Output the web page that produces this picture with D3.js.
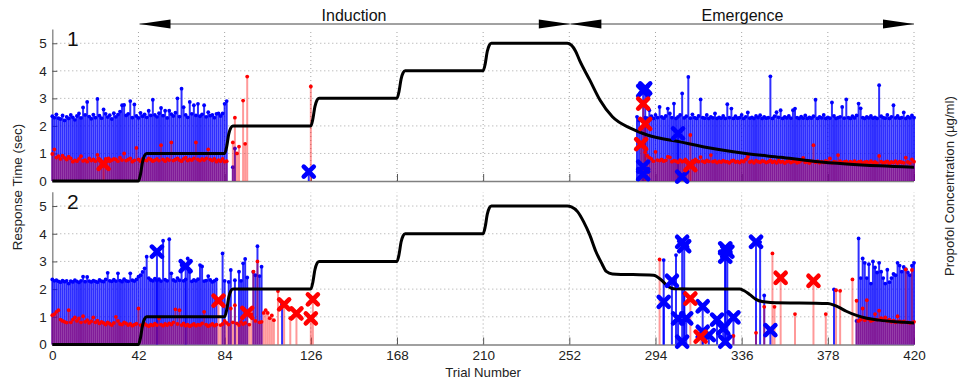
<!DOCTYPE html>
<html><head><meta charset="utf-8">
<script src="https://cdn.jsdelivr.net/npm/d3@7"></script>
<style>body{margin:0;background:#fff}svg{display:block;font-family:"Liberation Sans",Arial,Helvetica,sans-serif}</style>
</head><body>
<svg id="chart" width="960" height="384"></svg>
<script>
// ---------- data ----------
const trialTicks = [0, 42, 84, 126, 168, 210, 252, 294, 336, 378, 420];
const timeTicks = [0, 1, 2, 3, 4, 5];
const phaseNames = ["Induction", "Emergence"];
const phaseBounds = [[43, 252], [253, 420]];
const panelNames = ["1", "2"];

// Panel 1 — induction block, trials 0..85
const p1IndStart = 0;
const p1BlueInd = [
 2.35,2.30,2.42,2.28,2.25,2.38,2.20,2.33,2.27,2.40,
 2.31,2.22,2.36,2.45,2.29,2.67,2.40,2.87,2.34,2.26,
 2.41,2.30,2.98,2.37,2.28,2.60,2.44,2.32,2.39,2.25,
 2.46,2.33,2.41,2.52,2.75,2.76,2.38,2.44,2.90,2.30,
 2.78,2.36,2.29,2.47,2.35,2.42,2.31,2.55,2.38,2.95,
 2.40,2.33,2.46,2.65,2.37,2.55,2.29,2.55,2.43,2.36,
 2.48,3.00,2.34,3.35,2.68,2.40,2.31,2.87,2.44,2.75,
 2.38,2.80,2.35,2.42,2.75,2.33,2.50,2.37,2.40,2.30,
 2.44,2.45,2.36,2.45,2.80,2.90];
const p1RedInd = [
 0.98,1.15,0.85,0.90,0.80,0.92,0.84,0.78,0.88,0.82,
 0.70,0.75,0.72,0.80,0.90,0.73,0.76,0.70,0.82,0.74,
 0.78,0.72,0.95,0.74,0.70,0.62,0.80,0.74,0.72,0.76,
 0.80,0.78,0.72,0.85,0.76,1.00,0.74,0.78,0.82,0.70,
 0.75,1.20,0.78,0.72,0.80,0.76,0.74,0.82,0.78,0.72,
 0.76,0.80,0.74,1.30,0.78,0.72,0.80,0.76,1.40,0.74,
 0.78,0.82,0.76,0.72,0.80,0.85,0.74,0.78,0.76,0.82,
 1.40,0.78,0.74,0.80,0.76,0.82,1.15,0.78,0.74,0.80,
 0.70,0.76,0.72,0.80,0.70,0.72];
// Panel 1 — emergence block, trials 289..420
const p1EmgStart = 289;
const p1BlueEmg = [
 2.30,2.28,2.57,2.35,2.27,2.40,2.30,2.69,2.33,2.28,
 2.36,2.63,2.45,2.30,2.81,2.27,2.33,2.40,3.18,2.29,
 2.35,3.78,2.28,2.42,2.30,2.27,2.36,2.96,2.30,2.28,
 2.40,2.27,2.33,2.29,2.45,2.27,2.31,2.28,2.36,2.27,
 2.79,2.30,2.63,2.27,2.35,2.28,2.30,2.40,2.27,2.33,
 2.49,2.28,2.31,2.27,2.36,2.30,2.39,2.27,2.33,2.28,
 2.30,3.80,2.27,2.35,2.50,2.31,2.57,2.27,2.33,2.29,
 2.36,2.28,2.57,2.63,2.30,2.27,2.34,2.28,2.38,2.27,
 2.31,2.28,2.35,2.95,2.27,2.33,2.29,2.40,2.27,2.31,
 2.28,2.85,2.36,2.27,2.30,2.33,2.69,2.28,2.96,2.30,
 2.27,2.35,2.29,2.38,2.81,2.64,2.30,2.27,2.33,2.29,
 2.36,2.28,2.31,2.27,3.48,2.35,2.30,2.28,2.40,2.27,
 2.33,2.75,2.29,2.36,2.28,2.30,2.49,2.27,2.34,2.29,
 2.38,2.30];
const p1RedEmg = [
 1.04,0.92,0.85,0.80,0.72,1.06,0.76,0.74,0.78,0.72,
 0.75,0.88,0.86,0.70,0.74,0.72,0.68,0.76,0.70,0.73,
 0.70,0.66,1.67,0.72,0.69,0.74,0.70,0.87,0.72,0.68,
 0.75,0.71,0.94,0.70,0.73,0.67,0.71,0.69,0.74,0.70,
 0.70,0.66,0.72,0.75,0.69,0.71,0.67,0.73,0.70,0.78,
 0.88,0.69,0.72,0.66,0.74,0.70,0.68,0.73,0.71,0.67,
 0.70,0.75,0.68,0.72,0.66,0.74,0.69,0.71,0.65,0.70,
 0.73,0.67,0.70,0.72,0.66,0.69,0.74,0.84,0.68,0.70,
 0.65,0.71,1.30,0.68,0.72,0.66,0.70,0.67,0.73,0.69,
 0.82,0.66,0.70,0.68,0.94,0.72,0.66,0.69,0.71,0.65,
 0.70,0.67,0.72,0.66,0.69,0.71,0.65,0.68,0.70,0.66,
 0.72,0.67,0.69,0.65,0.91,0.70,0.66,0.68,0.71,0.64,
 0.69,0.67,0.72,0.65,0.70,0.68,0.66,0.85,0.69,0.65,
 0.78,0.70];
const p1BlueExtra = [[88,0.50],[89,1.18],[285,2.33],[286,2.20],[287,1.90]];
const p1RedExtra = [[88,1.40],[89,2.30],[90,1.00],[91,1.25],[93,2.92],[94,1.35],[95,3.79],[126,3.43]];
const p1BlueX = [[125,0.34],[289,3.36],[288,3.27],[288,0.52],[288,0.25],[307,0.16],[305,1.73]];
const p1RedX = [[25,0.62],[288,2.81],[289,2.07],[287,1.34],[311,0.58]];

// Panel 2 — induction block, trials 0..110 (null = no response shown)
const p2IndStart = 0;
const p2BlueInd = [
 2.35,2.30,2.32,2.28,2.25,2.31,2.27,2.30,2.20,2.29,
 2.26,2.32,2.28,2.24,2.30,2.45,2.27,2.44,2.29,2.26,
 2.31,2.28,2.25,2.33,2.29,2.27,2.35,2.59,2.30,2.28,
 2.34,2.29,2.57,2.31,2.27,2.36,2.30,2.28,2.57,2.32,
 2.29,2.35,2.45,2.50,2.62,2.75,3.17,2.40,2.33,2.30,
 2.38,2.31,2.36,2.29,3.75,2.34,2.30,3.80,2.57,2.33,
 2.29,2.40,2.32,2.87,2.30,2.35,3.11,2.62,2.28,2.33,
 2.30,2.36,2.87,2.82,2.29,2.31,2.47,2.33,2.26,2.30,
 2.35,null,null,3.29,2.30,null,2.26,2.69,null,2.32,
 null,2.63,2.30,2.93,3.09,2.42,null,null,2.62,2.50,
 3.55,2.47,2.81];
const p2RedInd = [
 1.06,1.10,1.18,1.24,0.90,0.85,0.82,0.79,1.24,0.80,
 0.90,0.98,0.85,0.94,0.80,1.02,0.82,0.88,0.78,0.84,
 0.98,0.80,0.86,0.76,0.82,0.78,0.72,0.80,0.75,0.70,
 0.78,1.00,0.85,0.74,0.72,0.80,0.76,0.70,0.74,0.68,
 0.72,0.75,1.30,0.70,0.68,0.74,0.70,0.66,0.72,0.69,
 0.75,0.70,0.94,0.72,0.68,0.74,0.70,0.76,0.72,0.80,
 1.27,0.74,1.24,0.70,0.76,0.68,0.72,0.66,0.70,0.74,
 0.68,0.72,0.70,0.76,1.18,0.72,0.66,0.70,0.74,0.68,
 0.72,null,0.70,0.74,0.85,0.78,0.72,1.30,0.80,1.42,
 0.76,0.70,0.82,0.74,0.78,null,0.72,1.10,2.63,0.85,
 3.00,0.80,0.82,1.14,1.24,1.14,0.95,1.05,0.88,null,
 1.93];
// Panel 2 — late emergence block, trials 393..420
const p2EmgStart = 393;
const p2BlueEmg = [3.83,2.40,3.11,2.95,2.40,2.90,2.20,3.00,2.78,2.60,2.95,2.63,2.40,2.20,
 2.70,2.25,2.40,2.55,2.50,2.95,2.85,2.63,2.80,2.72,2.60,2.50,2.85,2.95];
const p2RedEmg = [0.85,0.90,1.30,0.88,1.60,0.92,0.85,0.88,1.10,0.90,1.22,0.95,0.88,0.98,
 0.85,0.90,0.82,0.86,0.80,1.02,0.84,0.80,0.83,2.71,0.80,0.78,2.69,0.82];
const p2BlueExtra = [[112,1.45],[298,3.05],[304,3.23],[308,1.85],[345,3.70],[347,1.77],[381,1.99],[392,0.85]];
const p2RedExtra = [[116,0.95],[296,3.07],[332,0.31],[343,0.42],[347,1.36],[351,3.29],[352,1.36],
 [362,1.10],[377,1.10],[382,1.96],[384,1.94],[390,2.35],[392,1.58]];
const p2BlueX = [[51,3.35],[65,2.83],[298,1.54],[302,2.30],[307,3.71],[308,3.55],[305,0.94],[309,0.94],
 [307,0.10],[317,1.38],[317,0.46],[320,0.34],[324,0.90],[327,0.58],[328,3.47],[329,3.35],[328,3.17],
 [328,0.10],[332,0.98],[343,3.71],[350,0.52]];
const p2RedX = [[81,1.58],[95,1.14],[113,1.45],[119,1.12],[127,1.63],[126,0.94],[311,1.66],[316,0.28],[355,2.41],[371,2.30]];

// Propofol concentration (µg/ml), [trial, value]
const concInduction = [[0,0],[42,0],[43,0.25],[44,0.7],[45,0.93],[46,1],[84,1],[85,1.25],[86,1.7],[87,1.93],[88,2],
 [126,2],[127,2.25],[128,2.7],[129,2.93],[130,3],[168,3],[169,3.25],[170,3.7],[171,3.93],[172,4],
 [210,4],[211,4.25],[212,4.7],[213,4.93],[214,5],[251,5]];
const conc1Emergence = [[253,4.93],[255,4.72],[257,4.38],[262,3.66],[267,2.93],[273,2.33],[282,1.91],[290,1.67],
 [306,1.42],[322,1.18],[338,1.0],[355,0.86],[371,0.72],[387,0.62],[403,0.55],[420,0.5]];
const conc2Emergence = [[253,4.97],[256,4.8],[259,4.43],[262,3.95],[265,3.35],[268,2.9],[270,2.64],[273,2.55],
 [293,2.5],[297,2.32],[300,2.1],[303,2.01],[335,2.0],[337,1.95],[340,1.8],[343,1.63],[346,1.55],[350,1.52],
 [378,1.48],[381,1.42],[384,1.32],[387,1.2],[392,1.05],[397,0.95],[403,0.88],[411,0.82],[420,0.78]];

// ---------- drawing ----------
const svg = d3.select("#chart");
const x = d3.scaleLinear().domain([0, 420]).range([52.3, 914]);
const seg = (start, arr) => arr.map((v, i) => v == null ? null : [start + i, v]).filter(d => d);

const panels = [
  { name: panelNames[0], range: [181, 29.5],
    blue: seg(p1IndStart, p1BlueInd).concat(seg(p1EmgStart, p1BlueEmg), p1BlueExtra),
    red: seg(p1IndStart, p1RedInd).concat(seg(p1EmgStart, p1RedEmg), p1RedExtra),
    bx: p1BlueX, rx: p1RedX, conc: concInduction.concat(conc1Emergence), xLabels: false },
  { name: panelNames[1], range: [344.5, 192.2],
    blue: seg(p2IndStart, p2BlueInd).concat(seg(p2EmgStart, p2BlueEmg), p2BlueExtra),
    red: seg(p2IndStart, p2RedInd).concat(seg(p2EmgStart, p2RedEmg), p2RedExtra),
    bx: p2BlueX, rx: p2RedX, conc: concInduction.concat(conc2Emergence), xLabels: true }
];

panels.forEach(p => {
  const y = d3.scaleLinear().domain([0, 5.5]).range(p.range);
  const g = svg.append("g");
  // grid
  g.append("g").selectAll("line").data(trialTicks.slice(1)).join("line")
    .attr("x1", d => x(d)).attr("x2", d => x(d)).attr("y1", y(0)).attr("y2", y(5.5))
    .attr("stroke", "#9a9a9a").attr("stroke-width", 0.9).attr("stroke-dasharray", "1,3");
  g.append("g").selectAll("line").data(timeTicks.slice(1)).join("line")
    .attr("x1", x(0)).attr("x2", x(420)).attr("y1", d => y(d)).attr("y2", d => y(d))
    .attr("stroke", "#9a9a9a").attr("stroke-width", 0.9).attr("stroke-dasharray", "1,3");
  // axes
  const ya = d3.axisLeft(y).tickValues(timeTicks).tickSize(-5).tickPadding(5.5).tickFormat(d3.format("d"));
  const yg = g.append("g").attr("transform", `translate(${x(0)},0)`).call(ya);
  const xa = d3.axisBottom(x).tickValues(trialTicks).tickSize(-7).tickPadding(5.5)
    .tickFormat(p.xLabels ? d3.format("d") : () => "");
  const xg = g.append("g").attr("transform", `translate(0,${y(0)})`).call(xa);
  [yg, xg].forEach(a => {
    a.select(".domain").attr("stroke", "#808080").attr("stroke-width", 1.3);
    a.selectAll(".tick line").attr("stroke", "#555");
    a.selectAll("text").attr("font-size", 13.5).attr("fill", "#222")
      .attr("font-family", '"Liberation Sans",Arial,sans-serif');
  });
  yg.select(".domain").attr("d", `M0.5,${y(0)}V${y(5.5)}`);
  xg.select(".domain").attr("d", `M${x(0)},0.5H${x(420)}`);
  xg.selectAll(".tick").filter(d => d === 0).select("line").remove();
  yg.selectAll(".tick").filter(d => d === 0).select("line").remove();

  // stems
  const stems = (data, color, op) => g.append("g").selectAll("line").data(data).join("line")
      .attr("x1", d => x(d[0])).attr("x2", d => x(d[0]))
      .attr("y1", y(0)).attr("y2", d => y(d[1]))
      .attr("stroke", color).attr("stroke-width", 2).attr("stroke-opacity", op);
  const dots = (data, color) => g.append("g").selectAll("circle").data(data).join("circle")
      .attr("cx", d => x(d[0])).attr("cy", d => y(d[1])).attr("r", 1.9).attr("fill", color);
  stems(p.blue.concat(p.bx), "#0000ff", 0.82);
  dots(p.blue, "#0000ff");
  stems(p.red.concat(p.rx), "#ff0000", 0.4);
  dots(p.red, "#ff0000");

  // concentration curve
  g.append("path").datum(p.conc)
    .attr("d", d3.line().x(d => x(d[0])).y(d => y(d[1])).curve(d3.curveMonotoneX))
    .attr("fill", "none").attr("stroke", "#000").attr("stroke-width", 3);

  // X markers
  const xm = (data, color) => g.append("g").selectAll("path").data(data).join("path")
    .attr("transform", d => `translate(${x(d[0])},${y(d[1])})`)
    .attr("d", "M-5,-5L5,5M-5,5L5,-5").attr("stroke", color).attr("stroke-width", 4.6)
    .attr("stroke-linecap", "round").attr("fill", "none");
  xm(p.bx, "#0000ff");
  xm(p.rx, "#ff0000");

  // panel label
  g.append("text").attr("x", 67).attr("y", p.range[0] - 135.5).attr("font-size", 21).attr("fill", "#111").text(p.name);
});

// phase arrows
const arrowY = 24;
const hg = svg.append("g");
phaseBounds.forEach((b, i) => {
  const a = x(b[0]) - 1, c = x(b[1]) + (i === 1 ? 0 : 0.5);
  hg.append("line").attr("x1", a).attr("x2", c).attr("y1", arrowY).attr("y2", arrowY)
    .attr("stroke", "#444").attr("stroke-width", 1);
  hg.append("path").attr("d", `M${a},${arrowY}L${a + 31},${arrowY - 4.5}L${a + 31},${arrowY + 4.5}Z`).attr("fill", "#000");
  hg.append("path").attr("d", `M${c},${arrowY}L${c - 31},${arrowY - 4.5}L${c - 31},${arrowY + 4.5}Z`).attr("fill", "#000");
  hg.append("text").attr("x", i === 0 ? 354 : 742.5).attr("y", 21).attr("text-anchor", "middle")
    .attr("font-size", 16).attr("fill", "#111").text(phaseNames[i]);
});

// axis titles
svg.append("text").attr("x", x(210)).attr("y", 376.5).attr("text-anchor", "middle")
  .attr("font-size", 13.2).attr("fill", "#222").text("Trial Number");
svg.append("text").attr("transform", "translate(21.5,187) rotate(-90)").attr("text-anchor", "middle")
  .attr("font-size", 13.4).attr("fill", "#222").text("Response Time (sec)");
svg.append("text").attr("transform", "translate(954,186) rotate(-90)").attr("text-anchor", "middle")
  .attr("font-size", 13.2).attr("fill", "#222").text("Propofol Concentration (\u00b5g/ml)");
</script>
</body></html>
